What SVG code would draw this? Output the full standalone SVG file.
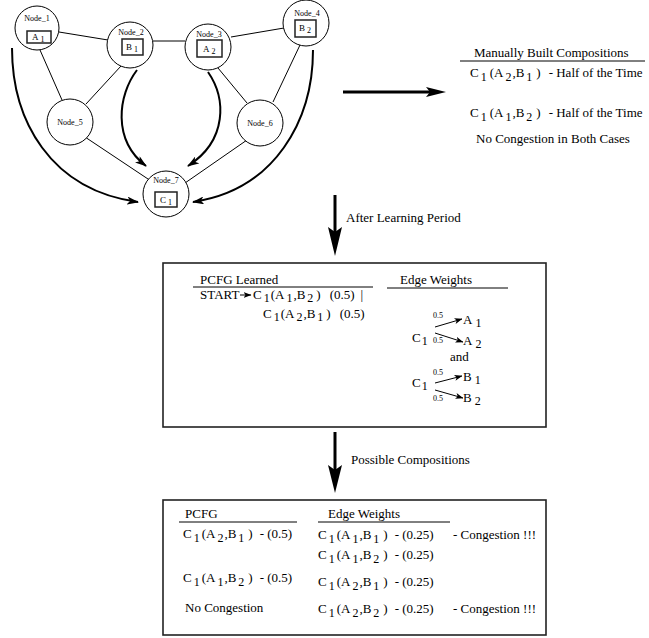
<svg xmlns="http://www.w3.org/2000/svg" width="649" height="638" viewBox="0 0 649 638">
  <style>
    text { font-family: "Liberation Serif", "Times New Roman", serif; fill: #000; }
    .t { font-size: 13px; }
    .sb { font-size: 12px; }
    .nl { font-size: 8px; }
    .bx { font-size: 9px; }
    .bs { font-size: 8px; }
    .w { font-size: 8px; }
    .node circle { fill: #fff; stroke: #000; stroke-width: 1; }
    .node rect { fill: #fff; stroke: #222; stroke-width: 1.5; }
    .link { stroke: #000; stroke-width: 1; fill: none; }
    .flow { stroke: #000; stroke-width: 2; fill: none; marker-end: url(#head); }
    .rule { stroke: #000; stroke-width: 1; }
    .panel { fill: #fff; stroke: #222; stroke-width: 1.6; }
  </style>
  <defs>
    <marker id="head" viewBox="0 0 12 8" refX="11" refY="4" markerWidth="12" markerHeight="8" markerUnits="userSpaceOnUse" orient="auto">
      <path d="M0,0 L12,4 L0,8 L3,4 Z" fill="#000"/>
    </marker>
    <marker id="small" viewBox="0 0 8 6" refX="7.5" refY="3" markerWidth="8" markerHeight="6" markerUnits="userSpaceOnUse" orient="auto">
      <path d="M0,0 L8,3 L0,6 L2,3 Z" fill="#000"/>
    </marker>
  </defs>

  <!-- undirected links between nodes -->
  <g id="connectors">
    <line class="link" x1="59" y1="32" x2="108" y2="40"/>
    <line class="link" x1="40" y1="50" x2="62" y2="100"/>
    <line class="link" x1="121" y1="66" x2="86" y2="104"/>
    <line class="link" x1="153" y1="41" x2="185" y2="41"/>
    <line class="link" x1="231" y1="37" x2="284" y2="28"/>
    <line class="link" x1="218" y1="68" x2="247" y2="103"/>
    <line class="link" x1="300" y1="45" x2="273" y2="102"/>
    <line class="link" x1="85" y1="137" x2="151" y2="181"/>
    <line class="link" x1="247" y1="140" x2="185" y2="183"/>
    <!-- directed flows into Node_7 -->
    <path class="flow" d="M12,48 C12,120 50,190 138,202"/>
    <path class="flow" d="M137,70 C118,95 112,140 146,166"/>
    <path class="flow" d="M208,72 C226,98 228,140 188,166"/>
    <path class="flow" d="M313,50 C313,120 275,190 193,202"/>
  </g>

  <g id="node1" class="node">
    <circle cx="37" cy="28" r="22"/>
    <text class="nl" x="37" y="21" text-anchor="middle">Node_1</text>
    <rect x="27" y="31" width="24" height="12"/>
    <text class="bx" x="32" y="40">A<tspan class="bs" dx="2" dy="2">1</tspan></text>
  </g>
  <g id="node2" class="node">
    <circle cx="130" cy="45" r="23"/>
    <text class="nl" x="131" y="35" text-anchor="middle">Node_2</text>
    <rect x="122" y="39" width="21" height="16"/>
    <text class="bx" x="126" y="50">B<tspan class="bs" dx="2" dy="2">1</tspan></text>
  </g>
  <g id="node3" class="node">
    <circle cx="208" cy="47" r="23"/>
    <text class="nl" x="209" y="37" text-anchor="middle">Node_3</text>
    <rect x="197" y="40" width="25" height="17"/>
    <text class="bx" x="203" y="52">A<tspan class="bs" dx="2" dy="2">2</tspan></text>
  </g>
  <g id="node4" class="node">
    <circle cx="306" cy="23" r="23"/>
    <text class="nl" x="307" y="16" text-anchor="middle">Node_4</text>
    <rect x="295" y="20" width="21" height="17"/>
    <text class="bx" x="299" y="31">B<tspan class="bs" dx="2" dy="2">2</tspan></text>
  </g>
  <g id="node5" class="node">
    <circle cx="70" cy="122" r="23"/>
    <text class="nl" x="70" y="125" text-anchor="middle">Node_5</text>
  </g>
  <g id="node6" class="node">
    <circle cx="260" cy="123" r="23"/>
    <text class="nl" x="260" y="126" text-anchor="middle">Node_6</text>
  </g>
  <g id="node7" class="node">
    <circle cx="166" cy="194" r="23"/>
    <text class="nl" x="166" y="183" text-anchor="middle">Node_7</text>
    <rect x="155" y="192" width="22" height="15"/>
    <text class="bx" x="160" y="203">C<tspan class="bs" dx="2" dy="2">1</tspan></text>
  </g>

  <!-- block arrows between the stages -->
  <g id="arrows">
    <line x1="343" y1="92" x2="430" y2="92" stroke="#000" stroke-width="3"/>
    <path d="M426,87 L446,92 L426,97 L430,92 Z" fill="#000"/>
    <line x1="335" y1="195" x2="335" y2="232" stroke="#000" stroke-width="3"/>
    <path d="M328,227 L335,256 L342,227 L335,232 Z" fill="#000"/>
    <line x1="335" y1="432" x2="335" y2="470" stroke="#000" stroke-width="3"/>
    <path d="M328,465 L335,493 L342,465 L335,470 Z" fill="#000"/>
    <text class="t" x="346" y="222">After Learning Period</text>
    <text class="t" x="351" y="464">Possible Compositions</text>
  </g>

  <g id="manual">
    <text class="t" x="474" y="57">Manually Built Compositions</text>
    <line class="rule" x1="460" y1="61" x2="645" y2="61"/>
    <text class="t" x="470" y="77">C<tspan class="sb" dx="2" dy="4">1</tspan><tspan dx="3" dy="-4">(A</tspan><tspan class="sb" dx="2" dy="4">2</tspan><tspan dx="1" dy="-4">,B</tspan><tspan class="sb" dx="2" dy="4">1</tspan><tspan dx="4" dy="-4">)</tspan><tspan dx="8">- Half of the Time</tspan></text>
    <text class="t" x="470" y="117">C<tspan class="sb" dx="2" dy="4">1</tspan><tspan dx="3" dy="-4">(A</tspan><tspan class="sb" dx="2" dy="4">1</tspan><tspan dx="1" dy="-4">,B</tspan><tspan class="sb" dx="2" dy="4">2</tspan><tspan dx="4" dy="-4">)</tspan><tspan dx="8">- Half of the Time</tspan></text>
    <text class="t" x="476" y="143">No Congestion in Both Cases</text>
  </g>

  <g id="learned">
    <rect class="panel" x="163" y="263" width="383" height="164"/>
    <text class="t" x="200" y="284">PCFG Learned</text>
    <line class="rule" x1="193" y1="287" x2="373" y2="287"/>
    <text class="t" x="400" y="284">Edge Weights</text>
    <line class="rule" x1="387" y1="288" x2="508" y2="288"/>
    <text class="t" x="200" y="299">START</text>
    <line x1="240" y1="295" x2="251" y2="295" stroke="#000" stroke-width="1" marker-end="url(#small)"/>
    <text class="t" x="253" y="299">C<tspan class="sb" dx="2" dy="3">1</tspan><tspan dx="1" dy="-3">(A</tspan><tspan class="sb" dx="2" dy="3">1</tspan><tspan dx="1" dy="-3">,B</tspan><tspan class="sb" dx="2" dy="3">2</tspan><tspan dx="3" dy="-3">)</tspan><tspan dx="9">(0.5)</tspan><tspan dx="6">|</tspan></text>
    <text class="t" x="263" y="318">C<tspan class="sb" dx="2" dy="3">1</tspan><tspan dx="1" dy="-3">(A</tspan><tspan class="sb" dx="2" dy="3">2</tspan><tspan dx="1" dy="-3">,B</tspan><tspan class="sb" dx="2" dy="3">1</tspan><tspan dx="3" dy="-3">)</tspan><tspan dx="9">(0.5)</tspan></text>

    <text class="t" x="412" y="342">C<tspan class="sb" dx="1" dy="3">1</tspan></text>
    <line x1="435" y1="327" x2="462" y2="319" stroke="#000" stroke-width="1" marker-end="url(#small)"/>
    <line x1="435" y1="333" x2="463" y2="342" stroke="#000" stroke-width="1" marker-end="url(#small)"/>
    <text class="w" x="433" y="318">0.5</text>
    <text class="w" x="433" y="343">0.5</text>
    <text class="t" x="463" y="324">A<tspan class="sb" dx="3" dy="3">1</tspan></text>
    <text class="t" x="463" y="345">A<tspan class="sb" dx="3" dy="3">2</tspan></text>
    <text class="t" x="450" y="361">and</text>

    <text class="t" x="412" y="387">C<tspan class="sb" dx="1" dy="3">1</tspan></text>
    <line x1="435" y1="383" x2="462" y2="376" stroke="#000" stroke-width="1" marker-end="url(#small)"/>
    <line x1="435" y1="390" x2="463" y2="398" stroke="#000" stroke-width="1" marker-end="url(#small)"/>
    <text class="w" x="433" y="375">0.5</text>
    <text class="w" x="433" y="401">0.5</text>
    <text class="t" x="463" y="381">B<tspan class="sb" dx="3" dy="3">1</tspan></text>
    <text class="t" x="463" y="402">B<tspan class="sb" dx="3" dy="3">2</tspan></text>
  </g>

  <g id="possible">
    <rect class="panel" x="163" y="500" width="383" height="135"/>
    <text class="t" x="185" y="518">PCFG</text>
    <line class="rule" x1="179" y1="522" x2="297" y2="522"/>
    <text class="t" x="328" y="518">Edge Weights</text>
    <line class="rule" x1="318" y1="522" x2="450" y2="522"/>

    <text class="t" x="183" y="538">C<tspan class="sb" dx="2" dy="4">1</tspan><tspan dx="2" dy="-4">(A</tspan><tspan class="sb" dx="2" dy="4">2</tspan><tspan dx="1" dy="-4">,B</tspan><tspan class="sb" dx="2" dy="4">1</tspan><tspan dx="4" dy="-4">)</tspan><tspan dx="7">- (0.5)</tspan></text>
    <text class="t" x="183" y="582">C<tspan class="sb" dx="2" dy="4">1</tspan><tspan dx="2" dy="-4">(A</tspan><tspan class="sb" dx="2" dy="4">1</tspan><tspan dx="1" dy="-4">,B</tspan><tspan class="sb" dx="2" dy="4">2</tspan><tspan dx="4" dy="-4">)</tspan><tspan dx="7">- (0.5)</tspan></text>
    <text class="t" x="185" y="612">No Congestion</text>

    <text class="t" x="318" y="539">C<tspan class="sb" dx="2" dy="4">1</tspan><tspan dx="2" dy="-4">(A</tspan><tspan class="sb" dx="2" dy="4">1</tspan><tspan dx="1" dy="-4">,B</tspan><tspan class="sb" dx="2" dy="4">1</tspan><tspan dx="4" dy="-4">)</tspan><tspan dx="7">- (0.25)</tspan></text>
    <text class="t" x="453" y="539">- Congestion !!!</text>
    <text class="t" x="318" y="559">C<tspan class="sb" dx="2" dy="4">1</tspan><tspan dx="2" dy="-4">(A</tspan><tspan class="sb" dx="2" dy="4">1</tspan><tspan dx="1" dy="-4">,B</tspan><tspan class="sb" dx="2" dy="4">2</tspan><tspan dx="4" dy="-4">)</tspan><tspan dx="7">- (0.25)</tspan></text>
    <text class="t" x="318" y="586">C<tspan class="sb" dx="2" dy="4">1</tspan><tspan dx="2" dy="-4">(A</tspan><tspan class="sb" dx="2" dy="4">2</tspan><tspan dx="1" dy="-4">,B</tspan><tspan class="sb" dx="2" dy="4">1</tspan><tspan dx="4" dy="-4">)</tspan><tspan dx="7">- (0.25)</tspan></text>
    <text class="t" x="318" y="613">C<tspan class="sb" dx="2" dy="4">1</tspan><tspan dx="2" dy="-4">(A</tspan><tspan class="sb" dx="2" dy="4">2</tspan><tspan dx="1" dy="-4">,B</tspan><tspan class="sb" dx="2" dy="4">2</tspan><tspan dx="4" dy="-4">)</tspan><tspan dx="7">- (0.25)</tspan></text>
    <text class="t" x="453" y="613">- Congestion !!!</text>
  </g>
</svg>
